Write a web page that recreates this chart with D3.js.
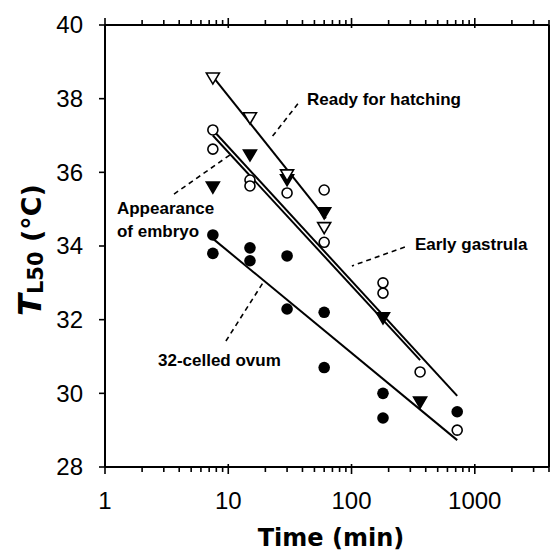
<!DOCTYPE html>
<html>
<head>
<meta charset="utf-8">
<script src="https://cdn.jsdelivr.net/npm/d3@7"></script>
<style>
  html, body { margin: 0; padding: 0; background: #fff; }
  svg { display: block; }
</style>
</head>
<body>
<div id="chart"></div>
<script>
// values (time in min, TL50 in degC)
const hatchTime = [7.5, 15, 30, 60];
const hatchT = [38.56, 37.48, 35.93, 34.5];
const embryoTime = [7.5, 7.5, 15, 15, 30, 60, 60, 180, 180, 360, 720];
const embryoT = [37.15, 36.63, 35.79, 35.63, 35.44, 35.52, 34.1, 33.0, 32.72, 30.58, 29.0];
const gastrulaTime = [7.5, 15, 30, 60, 180, 360];
const gastrulaT = [35.6, 36.47, 35.8, 34.9, 32.05, 29.76];
const ovumTime = [7.5, 7.5, 15, 15, 30, 30, 60, 60, 180, 180, 720];
const ovumT = [34.3, 33.8, 33.95, 33.6, 33.73, 32.29, 32.2, 30.7, 30.0, 29.33, 29.5];

// fitted lines: [start time, end time], [start T, end T]
const hatchFitTime = [7.5, 62], hatchFitT = [38.6, 34.75];
const embryoFitTime = [7.5, 720], embryoFitT = [37.15, 29.93];
const gastrulaFitTime = [7.5, 360], gastrulaFitT = [37.0, 30.9];
const ovumFitTime = [7.5, 720], ovumFitT = [34.2, 28.73];

const xTicks = [1, 10, 100, 1000];
const yTicks = [28, 30, 32, 34, 36, 38, 40];

// labels: text, anchor (time, T), leader from / to (time, T)
const labelText = ["Ready for hatching", "Appearance", "of embryo", "Early gastrula", "32-celled ovum"];
const labelTime = [43.5, 1.25, 1.25, 327, 2.69];
const labelT = [37.83, 34.87, 34.25, 33.89, 30.74];
const leaderTime = [[36.7, 22.6], [3.63, 10.3], [271, 100.7], [9.57, 19.1]];
const leaderT = [[37.86, 36.96], [35.41, 36.47], [33.97, 33.46], [31.42, 33.0]];

const W = 551, H = 556;
const m = {left: 105, right: 2, top: 25, bottom: 89};

const svg = d3.select("#chart").append("svg")
    .attr("width", W)
    .attr("height", H);

const x = d3.scaleLog().domain([1, 4000]).range([m.left, W - m.right]);
const y = d3.scaleLinear().domain([28, 40]).range([H - m.bottom, m.top]);

const tickFont = "'Liberation Sans', Arial, sans-serif";
const boldFont = "'DejaVu Sans', sans-serif";
const noteFont = "'Liberation Sans', Arial, sans-serif";

// log minor ticks
let minor = [];
for (let d = 1; d < 4000; d *= 10) {
  for (let k = 1; k < 10; k++) if (d * k <= 4000) minor.push(d * k);
}

// bottom axis
const gx = svg.append("g").attr("transform", `translate(0,${H - m.bottom})`);
gx.append("line").attr("x1", m.left).attr("x2", W - m.right)
    .attr("stroke", "#000").attr("stroke-width", 2);
gx.selectAll("line.t").data(minor).enter().append("line")
    .attr("class", "t")
    .attr("x1", d => x(d)).attr("x2", d => x(d))
    .attr("y1", d => xTicks.includes(d) ? -3 : 0)
    .attr("y2", d => xTicks.includes(d) ? 7 : 5)
    .attr("stroke", "#000").attr("stroke-width", 1.6);
gx.selectAll("text").data(xTicks).enter().append("text")
    .attr("x", d => x(d)).attr("y", 42)
    .attr("text-anchor", "middle")
    .style("font-family", tickFont).style("font-size", "24px")
    .text(d => d);

// top axis
const gt = svg.append("g").attr("transform", `translate(0,${m.top})`);
gt.append("line").attr("x1", m.left).attr("x2", W - m.right)
    .attr("stroke", "#000").attr("stroke-width", 2);
gt.selectAll("line.t").data(minor).enter().append("line")
    .attr("class", "t")
    .attr("x1", d => x(d)).attr("x2", d => x(d))
    .attr("y1", d => xTicks.includes(d) ? 3 : 0)
    .attr("y2", d => xTicks.includes(d) ? -7 : -5)
    .attr("stroke", "#000").attr("stroke-width", 1.6);

// left axis
const gy = svg.append("g").attr("transform", `translate(${m.left},0)`);
gy.append("line").attr("y1", m.top).attr("y2", H - m.bottom)
    .attr("stroke", "#000").attr("stroke-width", 2);
gy.selectAll("line.t").data(yTicks).enter().append("line")
    .attr("class", "t")
    .attr("y1", d => y(d)).attr("y2", d => y(d))
    .attr("x1", -6).attr("x2", 0)
    .attr("stroke", "#000").attr("stroke-width", 1.6);
gy.selectAll("text").data(yTicks).enter().append("text")
    .attr("x", -22).attr("y", d => y(d))
    .attr("dy", "0.35em")
    .attr("text-anchor", "end")
    .style("font-family", tickFont).style("font-size", "24px")
    .text(d => d);

// right border
svg.append("line").attr("x1", W - m.right).attr("x2", W - m.right)
    .attr("y1", m.top).attr("y2", H - m.bottom)
    .attr("stroke", "#000").attr("stroke-width", 2);

// axis titles
svg.append("text")
    .attr("x", (m.left + W - m.right) / 2 + 4).attr("y", 546)
    .attr("text-anchor", "middle")
    .style("font-family", boldFont).style("font-size", "24px").style("font-weight", "bold")
    .text("Time (min)");

const yl = svg.append("text")
    .attr("transform", "translate(41,250) rotate(-90)")
    .attr("text-anchor", "middle")
    .style("font-family", boldFont).style("font-weight", "bold");
yl.append("tspan").style("font-size", "32px").style("font-style", "italic").text("T");
yl.append("tspan").attr("dy", 2).style("font-size", "21px").text("L50");
yl.append("tspan").attr("dy", -2).style("font-size", "27px").text(" (°C)");

// fitted lines
const fits = [
  [hatchFitTime, hatchFitT],
  [gastrulaFitTime, gastrulaFitT],
  [embryoFitTime, embryoFitT],
  [ovumFitTime, ovumFitT]
];
const line = d3.line().x(d => x(d[0])).y(d => y(d[1]));
fits.forEach(f => {
  svg.append("path")
      .attr("d", line(d3.zip(f[0], f[1])))
      .attr("fill", "none").attr("stroke", "#000").attr("stroke-width", 2);
});

// leader lines
leaderTime.forEach((lt, i) => {
  svg.append("line")
      .attr("x1", x(lt[0])).attr("y1", y(leaderT[i][0]))
      .attr("x2", x(lt[1])).attr("y2", y(leaderT[i][1]))
      .attr("stroke", "#000").attr("stroke-width", 1.6)
      .attr("stroke-dasharray", "5,4");
});

// markers
const triDown = "M-6.5,-5L6.5,-5L0,6Z";
function triangles(ts, vs, filled) {
  svg.append("g").selectAll("path").data(d3.zip(ts, vs)).enter().append("path")
      .attr("transform", d => `translate(${x(d[0])},${y(d[1])})`)
      .attr("d", triDown)
      .attr("fill", filled ? "#000" : "#fff")
      .attr("stroke", "#000").attr("stroke-width", 1.6)
      .attr("stroke-linejoin", "miter");
}
function circles(ts, vs, filled) {
  svg.append("g").selectAll("circle").data(d3.zip(ts, vs)).enter().append("circle")
      .attr("cx", d => x(d[0])).attr("cy", d => y(d[1]))
      .attr("r", filled ? 5.8 : 5)
      .attr("fill", filled ? "#000" : "#fff")
      .attr("stroke", "#000").attr("stroke-width", filled ? 0 : 1.6);
}
circles(ovumTime, ovumT, true);
circles(embryoTime, embryoT, false);
triangles(gastrulaTime, gastrulaT, true);
triangles(hatchTime, hatchT, false);

// annotation text
svg.append("g").selectAll("text").data(labelText).enter().append("text")
    .attr("x", (d, i) => x(labelTime[i]))
    .attr("y", (d, i) => y(labelT[i]))
    .style("font-family", noteFont).style("font-size", "17px").style("font-weight", "bold")
    .text(d => d);
</script>
</body>
</html>
